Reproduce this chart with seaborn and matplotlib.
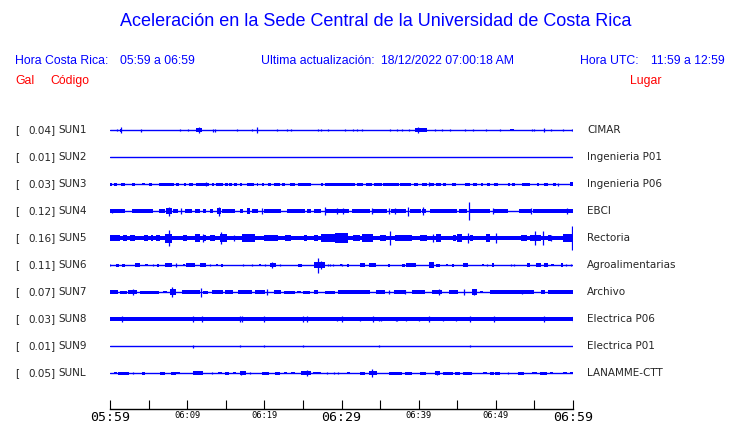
import matplotlib
matplotlib.use("Agg")
import matplotlib.pyplot as plt
import seaborn as sns
import pandas as pd

# station info, top to bottom
stations = ["SUN1", "SUN2", "SUN3", "SUN4", "SUN5", "SUN6", "SUN7", "SUN8", "SUN9", "SUNL"]
peaks = [0.04, 0.01, 0.03, 0.12, 0.16, 0.11, 0.07, 0.03, 0.01, 0.05]
places = ["CIMAR", "Ingenieria P01", "Ingenieria P06", "EBCI", "Rectoria",
          "Agroalimentarias", "Archivo", "Electrica P06", "Electrica P01", "LANAMME-CTT"]

# minutes after 05:59
tick_minutes = list(range(0, 61, 5))
tick_text = {0: "05:59", 10: "06:09", 20: "06:19", 30: "06:29", 40: "06:39", 50: "06:49", 60: "06:59"}
big_ticks = [0, 30, 60]

# bursts = (start min, end min, half amplitude gal), spikes = (min, gal)
sun1_bursts = [(1.3, 1.6, 0.02), (11.2, 11.9, 0.027), (39.5, 41.1, 0.022), (51.8, 52.3, 0.018)]
sun1_spikes = [(0.86, 0.018), (1.43, 0.044), (4.0, 0.02), (9.1, 0.013), (10.15, 0.018), (11.5, 0.035),
               (13.4, 0.02), (13.6, 0.02), (16.5, 0.013), (18.4, 0.018), (19.1, 0.035), (21.7, 0.018),
               (23.0, 0.018), (23.5, 0.018), (26.9, 0.018), (27.4, 0.01), (28.3, 0.018), (30.45, 0.013),
               (31.5, 0.018), (32.05, 0.018), (32.6, 0.018), (36.3, 0.013), (37.2, 0.013), (37.8, 0.018),
               (38.7, 0.018), (39.9, 0.045), (42.1, 0.013), (43.0, 0.018), (44.0, 0.018), (46.0, 0.018),
               (47.1, 0.01), (48.7, 0.01), (50.5, 0.01), (54.65, 0.018), (54.95, 0.018), (56.2, 0.022),
               (57.1, 0.013), (58.7, 0.018), (59.9, 0.018)]

sun2_bursts = []
sun2_spikes = []

sun3_bursts = [(0.0, 0.3, 0.02), (0.5, 0.95, 0.02), (1.4, 2.0, 0.02), (2.8, 3.2, 0.02), (4.1, 4.5, 0.018),
               (5.05, 5.4, 0.02), (6.35, 8.3, 0.02), (8.6, 8.9, 0.02), (9.6, 9.9, 0.02), (10.2, 10.8, 0.02),
               (11.2, 12.8, 0.02), (13.2, 13.5, 0.02), (13.8, 14.7, 0.02), (14.9, 15.25, 0.02),
               (15.4, 15.85, 0.02), (16.1, 16.5, 0.02), (16.85, 17.15, 0.02), (17.8, 18.6, 0.02),
               (19.0, 19.2, 0.02), (19.7, 20.0, 0.02), (20.5, 20.9, 0.02), (21.2, 22.0, 0.02),
               (22.25, 22.7, 0.02), (23.3, 24.0, 0.02), (24.4, 26.0, 0.02), (27.4, 27.6, 0.02),
               (27.9, 31.75, 0.02), (32.05, 32.75, 0.02), (33.2, 33.9, 0.02), (34.2, 35.2, 0.02),
               (35.4, 37.5, 0.02), (37.6, 38.95, 0.02), (39.4, 39.95, 0.02), (40.4, 41.1, 0.02),
               (41.4, 42.0, 0.02), (42.2, 42.85, 0.02), (43.1, 43.6, 0.02), (44.3, 44.85, 0.02),
               (46.0, 46.65, 0.02), (47.1, 47.6, 0.02), (48.1, 48.4, 0.02), (48.8, 49.2, 0.02),
               (49.8, 50.3, 0.02), (51.6, 51.9, 0.02), (52.05, 52.5, 0.02), (53.4, 54.4, 0.02),
               (55.3, 55.6, 0.02), (56.3, 56.8, 0.02), (57.4, 57.8, 0.02), (59.6, 60.0, 0.03)]
sun3_spikes = [(12.4, 0.025), (41.3, 0.03), (58.1, 0.02)]

sun4_bursts = [(0.0, 1.9, 0.022), (2.8, 5.6, 0.022), (6.4, 7.1, 0.022), (7.3, 8.0, 0.04), (8.2, 8.8, 0.022),
               (9.7, 10.6, 0.022), (11.0, 11.6, 0.03), (12.1, 12.4, 0.022), (13.0, 13.4, 0.03),
               (13.9, 14.4, 0.035), (14.5, 16.2, 0.025), (16.8, 17.3, 0.022), (17.7, 18.2, 0.035),
               (18.4, 19.2, 0.022), (19.9, 22.2, 0.022), (23.0, 25.3, 0.022), (25.5, 26.1, 0.022),
               (26.4, 27.4, 0.022), (28.0, 29.4, 0.025), (29.5, 31.0, 0.028), (31.3, 33.7, 0.022),
               (34.0, 35.9, 0.022), (36.4, 38.4, 0.025), (38.9, 40.3, 0.022), (40.4, 41.0, 0.03),
               (41.5, 44.5, 0.022), (44.5, 45.0, 0.03), (45.2, 46.3, 0.022), (46.7, 49.3, 0.022),
               (49.8, 51.6, 0.022), (53.0, 54.6, 0.022), (54.8, 59.3, 0.022), (59.4, 60.0, 0.03)]
sun4_spikes = [(0.3, 0.03), (7.7, 0.06), (9.2, 0.045), (14.1, 0.06), (19.7, 0.035), (27.9, 0.055),
               (29.4, 0.045), (30.2, 0.04), (33.9, 0.045), (36.2, 0.04), (36.9, 0.035), (38.6, 0.06),
               (40.6, 0.05), (46.5, 0.12), (49.6, 0.035), (54.6, 0.035), (59.2, 0.035)]

sun5_bursts = [(0.0, 60.0, 0.026), (0.0, 1.3, 0.04), (1.7, 2.2, 0.045), (2.6, 3.2, 0.04), (4.4, 4.9, 0.04),
               (5.3, 5.6, 0.035), (6.0, 6.5, 0.04), (7.1, 8.0, 0.06), (9.4, 10.0, 0.04), (11.0, 11.7, 0.05),
               (12.1, 12.5, 0.045), (13.0, 13.6, 0.04), (14.2, 15.1, 0.055), (17.1, 18.8, 0.05),
               (19.9, 21.8, 0.045), (22.7, 23.5, 0.035), (25.1, 25.5, 0.045), (26.4, 27.0, 0.035),
               (27.4, 29.2, 0.05), (29.2, 30.9, 0.065), (31.5, 32.4, 0.04), (32.7, 34.1, 0.05),
               (35.0, 35.8, 0.045), (36.9, 38.6, 0.045), (38.6, 39.1, 0.04), (40.2, 41.1, 0.035),
               (42.3, 42.9, 0.05), (44.4, 44.8, 0.035), (45.0, 45.6, 0.05), (46.7, 47.0, 0.035),
               (48.7, 49.3, 0.05), (53.2, 54.0, 0.04), (54.4, 55.8, 0.045), (56.8, 57.2, 0.035),
               (58.7, 60.0, 0.05)]
sun5_spikes = [(7.6, 0.11), (7.3, 0.05), (12.0, 0.055), (14.4, 0.08), (16.1, 0.04), (36.3, 0.09),
               (41.9, 0.055), (46.4, 0.07), (50.0, 0.07), (55.1, 0.09), (56.1, 0.09), (57.1, 0.045),
               (59.9, 0.16)]

sun6_bursts = [(0.75, 1.2, 0.02), (1.5, 1.95, 0.02), (3.3, 3.9, 0.027), (4.6, 4.9, 0.018), (6.05, 6.35, 0.02),
               (7.1, 8.0, 0.022), (9.5, 9.7, 0.018), (9.9, 11.0, 0.022), (11.65, 12.5, 0.025),
               (13.7, 14.0, 0.018), (14.4, 14.7, 0.02), (19.3, 19.6, 0.018), (20.7, 21.5, 0.03),
               (24.4, 24.9, 0.02), (26.5, 27.9, 0.035), (29.8, 30.0, 0.018), (30.7, 31.0, 0.02),
               (32.4, 33.0, 0.03), (33.6, 34.5, 0.022), (36.0, 36.3, 0.02), (37.8, 38.2, 0.02),
               (38.4, 39.7, 0.025), (41.4, 42.0, 0.04), (42.2, 42.8, 0.02), (43.5, 43.8, 0.018),
               (44.3, 44.6, 0.02), (45.7, 46.4, 0.025), (48.2, 48.5, 0.018), (49.5, 49.8, 0.03),
               (54.0, 54.4, 0.03), (55.2, 55.8, 0.025), (56.2, 56.8, 0.022), (57.2, 57.6, 0.018),
               (58.4, 58.7, 0.025)]
sun6_spikes = [(0.0, 0.015), (5.6, 0.015), (8.5, 0.022), (12.95, 0.018), (17.3, 0.015), (18.35, 0.015),
               (20.1, 0.015), (21.0, 0.045), (22.0, 0.018), (27.0, 0.1), (27.4, 0.05), (28.2, 0.015),
               (28.5, 0.015), (28.9, 0.015), (30.0, 0.015), (48.9, 0.01), (52.0, 0.012), (52.4, 0.015),
               (59.1, 0.015), (59.7, 0.015)]

sun7_bursts = [(0.0, 1.1, 0.025), (1.3, 2.2, 0.02), (2.3, 3.45, 0.025), (3.9, 6.3, 0.02), (6.9, 7.4, 0.018),
               (7.8, 8.6, 0.045), (9.3, 11.65, 0.022), (12.1, 12.7, 0.02), (13.2, 14.7, 0.025),
               (14.9, 16.0, 0.022), (16.6, 18.4, 0.025), (18.8, 20.1, 0.025), (21.2, 22.2, 0.022),
               (22.6, 24.0, 0.02), (24.2, 24.8, 0.018), (25.0, 25.9, 0.02), (26.4, 27.0, 0.025),
               (27.9, 29.2, 0.02), (29.6, 33.7, 0.025), (34.5, 35.6, 0.022), (36.8, 38.4, 0.025),
               (39.1, 40.8, 0.022), (41.7, 43.0, 0.03), (43.9, 45.1, 0.03), (46.9, 47.5, 0.035),
               (47.9, 48.4, 0.018), (49.3, 53.1, 0.025), (53.1, 54.9, 0.022), (55.8, 56.4, 0.03),
               (56.8, 60.0, 0.025)]
sun7_spikes = [(3.0, 0.035), (8.0, 0.065), (11.8, 0.06), (20.3, 0.045), (36.1, 0.03), (38.2, 0.03),
               (42.6, 0.045), (45.9, 0.035), (47.2, 0.045), (53.4, 0.03)]

sun8_bursts = [(0.0, 60.0, 0.022), (0.0, 0.3, 0.03), (55.8, 60.0, 0.026)]
sun8_spikes = [(1.6, 0.035), (10.7, 0.04), (11.9, 0.035), (16.85, 0.035), (17.05, 0.035), (19.9, 0.035),
               (25.05, 0.035), (25.5, 0.035), (29.4, 0.028), (30.0, 0.035), (32.4, 0.03), (34.1, 0.035),
               (34.8, 0.03), (35.1, 0.03), (37.0, 0.03), (37.2, 0.03), (38.4, 0.03), (40.0, 0.03),
               (41.3, 0.04), (43.2, 0.03), (44.8, 0.03), (46.6, 0.035), (49.7, 0.035), (56.3, 0.04),
               (60.0, 0.04)]

sun9_bursts = []
sun9_spikes = [(10.7, 0.02), (16.85, 0.015), (19.9, 0.015), (25.05, 0.015), (34.9, 0.015), (46.6, 0.01)]

sunl_bursts = [(0.55, 0.85, 0.018), (1.1, 2.4, 0.02), (4.1, 4.5, 0.02), (6.5, 7.1, 0.02), (7.9, 8.5, 0.02),
               (8.6, 9.1, 0.018), (10.7, 12.0, 0.022), (14.0, 14.5, 0.018), (14.9, 15.4, 0.02),
               (16.0, 16.3, 0.018), (16.85, 17.6, 0.022), (19.7, 20.6, 0.02), (21.4, 22.0, 0.02),
               (22.5, 22.9, 0.018), (23.5, 24.0, 0.018), (24.8, 26.1, 0.025), (26.3, 27.4, 0.018),
               (30.7, 31.1, 0.018), (32.4, 33.0, 0.02), (33.5, 34.6, 0.03), (36.1, 37.8, 0.02),
               (38.2, 39.1, 0.02), (40.2, 41.0, 0.02), (42.1, 42.8, 0.025), (43.2, 44.5, 0.02),
               (44.7, 45.4, 0.02), (45.8, 46.9, 0.02), (48.3, 48.8, 0.018), (49.3, 49.7, 0.02),
               (49.9, 50.5, 0.02), (52.9, 53.6, 0.02), (54.7, 55.3, 0.018), (55.7, 56.6, 0.02),
               (57.0, 57.4, 0.018), (58.7, 59.2, 0.018), (59.6, 60.0, 0.018)]
sunl_spikes = [(3.0, 0.015), (13.2, 0.015), (17.0, 0.03), (18.1, 0.015), (25.5, 0.04), (28.1, 0.012),
               (29.0, 0.012), (29.6, 0.012), (33.9, 0.055), (42.4, 0.03), (51.6, 0.015)]

bursts = [sun1_bursts, sun2_bursts, sun3_bursts, sun4_bursts, sun5_bursts,
          sun6_bursts, sun7_bursts, sun8_bursts, sun9_bursts, sunl_bursts]
spikes = [sun1_spikes, sun2_spikes, sun3_spikes, sun4_spikes, sun5_spikes,
          sun6_spikes, sun7_spikes, sun8_spikes, sun9_spikes, sunl_spikes]

BLUE = "#0000ff"
RED = "#ff0000"
GAL_TO_ROW = 2.78  # one gal in units of trace spacing
HEAD = 8.8

sns.set_theme(style="white")
plt.rcParams["font.family"] = ["Liberation Sans", "DejaVu Sans"]

W, H = 740, 423
fig = plt.figure(figsize=(W / 100, H / 100), dpi=100)
ax = fig.add_axes([110 / W, (H - 409) / H, 463 / W, (409 - 116) / H])


def px(x, y):
    return x / W, 1 - y / H


# baselines through seaborn
base = pd.DataFrame({
    "minute": [0, 60] * len(stations),
    "row": [i for i in range(len(stations)) for _ in range(2)],
    "station": [s for s in stations for _ in range(2)],
})
sns.lineplot(data=base, x="minute", y="row", units="station", estimator=None,
             color=BLUE, lw=1.0, ax=ax, legend=False)

for i, st in enumerate(stations):
    for t0, t1, a in bursts[i]:
        h = a * GAL_TO_ROW
        ax.fill_between([t0, t1], i - h, i + h, color=BLUE, lw=0)
    for t, a in spikes[i]:
        h = a * GAL_TO_ROW
        ax.vlines(t, i - h, i + h, color=BLUE, lw=0.9)

    yy = 130 + 27 * i
    fig.text(*px(15, yy), "[", fontsize=7.5, family="DejaVu Sans", va="center", ha="left")
    fig.text(*px(55.5, yy), f"{peaks[i]:.2f}]", fontsize=7.5, family="DejaVu Sans", va="center", ha="right")
    fig.text(*px(58, yy), st, fontsize=7.5, family="DejaVu Sans", va="center", ha="left")
    fig.text(*px(587, yy), places[i], fontsize=7.5, family="DejaVu Sans", va="center", ha="left")

ax.set_xlim(0, 60)
ax.set_ylim(10.33, -0.52)
ax.set_ylabel("")
ax.set_xlabel("")
ax.set_yticks([])
for side in ["top", "left", "right"]:
    ax.spines[side].set_visible(False)
ax.spines["bottom"].set_color("black")
ax.spines["bottom"].set_linewidth(1.0)

ax.set_xticks(tick_minutes)
ax.set_xticklabels([tick_text.get(m, "") for m in tick_minutes], family="DejaVu Sans Mono")
ax.tick_params(axis="x", direction="in", length=6.5, width=0.8, color="black", pad=1.5,
               bottom=True, labelcolor="black")
for m, lab in zip(tick_minutes, ax.get_xticklabels()):
    lab.set_fontsize(9.5 if m in big_ticks else 6.3)

# header
fig.text(*px(376, 22), "Aceleración en la Sede Central de la Universidad de Costa Rica",
         fontsize=13, color=BLUE, ha="center", va="center")
fig.text(*px(15, 61), "Hora Costa Rica:", fontsize=HEAD, color=BLUE, va="center")
fig.text(*px(120, 61), "05:59 a 06:59", fontsize=HEAD, color=BLUE, va="center")
fig.text(*px(261, 61), "Ultima actualización:", fontsize=HEAD, color=BLUE, va="center")
fig.text(*px(381, 61), "18/12/2022 07:00:18 AM", fontsize=HEAD, color=BLUE, va="center")
fig.text(*px(580, 61), "Hora UTC:", fontsize=HEAD, color=BLUE, va="center")
fig.text(*px(651, 61), "11:59 a 12:59", fontsize=HEAD, color=BLUE, va="center")
fig.text(*px(15, 81), "Gal", fontsize=HEAD, color=RED, va="center")
fig.text(*px(50, 81), "Código", fontsize=HEAD, color=RED, va="center")
fig.text(*px(630, 81), "Lugar", fontsize=HEAD, color=RED, va="center")

fig.savefig("out.png", dpi=100, facecolor="white")
